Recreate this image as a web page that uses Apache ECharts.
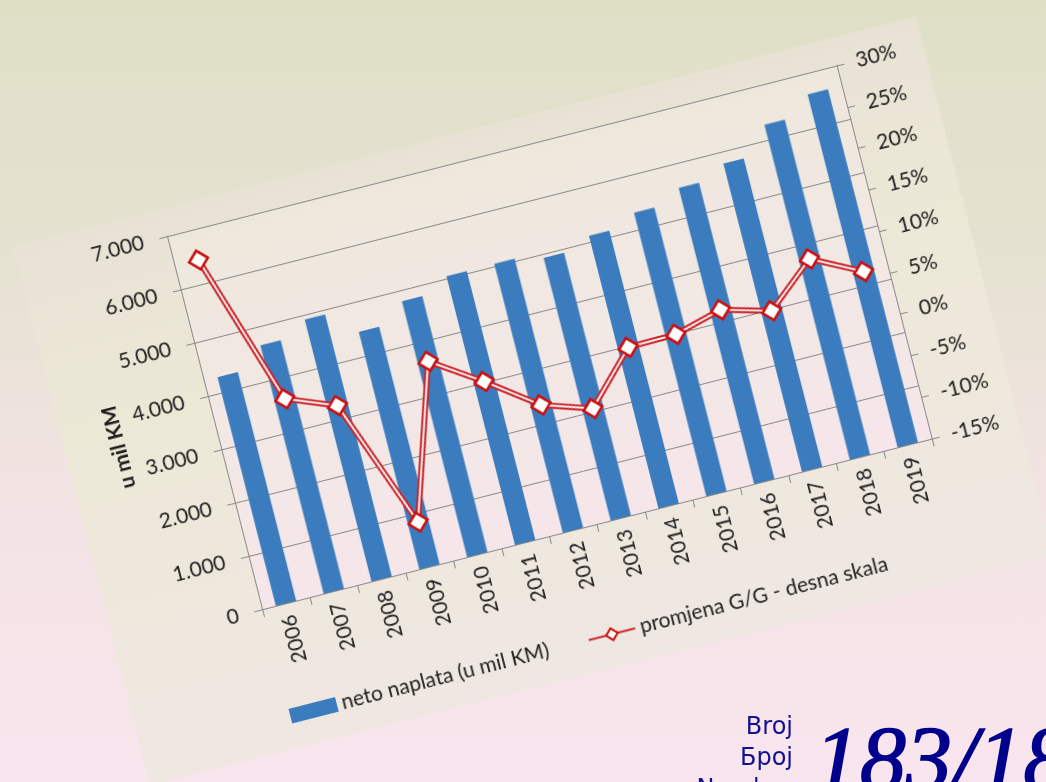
<!DOCTYPE html>
<html>
<head>
<meta charset="utf-8">
<script src="https://cdn.jsdelivr.net/npm/echarts@6.0.0/dist/echarts.min.js"></script>
<style>
  html, body {
    margin: 0;
    padding: 0;
    width: 1046px;
    height: 782px;
    overflow: hidden;
  }
  body {
    position: relative;
    background: linear-gradient(180deg, #dfdfc6 0%, #e6e2d2 35%, #f3e3e4 65%, #f9e5ee 100%);
  }
  #card {
    position: absolute;
    left: 67px;
    top: 123px;
    width: 932px;
    height: 556px;
    transform: rotate(-14.3deg);
    background: linear-gradient(180deg, #e8e2d5 0%, #ece8d6 35%, #eee8dc 65%, #efe7e2 100%);
  }
  .broj {
    position: absolute;
    right: 253px;
    top: 711px;
    font-family: "DejaVu Sans", sans-serif;
    font-size: 24px;
    line-height: 31px;
    color: #12128f;
    text-align: right;
  }
  .nr {
    position: absolute;
    left: 814px;
    top: 712px;
    font-family: "Liberation Serif", serif;
    font-style: italic;
    font-size: 92px;
    line-height: 1;
    color: #00008c;
    -webkit-text-stroke: 1.6px #00008c;
    white-space: nowrap;
  }
</style>
</head>
<body>
<div id="card"></div>
<div class="broj">Broj<br>Броj<br>Number</div>
<div class="nr">183/18</div>

<script>
const years = ['2006', '2007', '2008', '2009', '2010', '2011', '2012',
  '2013', '2014', '2015', '2016', '2017', '2018', '2019']
// neto naplata, u mil KM (lijeva skala)
const netoNaplata = [4290, 4660, 4915, 4453, 4802, 5040, 5044,
  4929, 5115, 5318, 5556, 5782, 6280, 6625]
// promjena G/G u % (desna skala)
const promjenaGG = [26.4, 8.2, 5.9, -9.6, 8.3, 4.4, 0.1,
  -1.8, 4.1, 4.2, 5.7, 4.1, 8.9, 5.9]
const leftScale = { min: 0, max: 7000, step: 1000 }
const rightScale = { min: -15, max: 30, step: 5 }

const barName = 'neto naplata (u mil KM)'
const lineName = 'promjena G/G - desna skala'
const font = 'Lato'
const gray = '#8a8a8a'

const chart = echarts.init(document.getElementById('card'))

const option = {
  animation: false,
  backgroundColor: 'transparent',
  textStyle: { fontFamily: font },
  grid: {
    left: 152, top: 28, width: 691, height: 385,
    show: true,
    borderWidth: 0,
    backgroundColor: new echarts.graphic.LinearGradient(0, 0, 0, 1, [
      { offset: 0, color: '#eee8dc' },
      { offset: 0.5, color: '#f2e8e4' },
      { offset: 1, color: '#f6e6ea' }
    ])
  },
  legend: {
    left: 148,
    top: 508,
    itemWidth: 48,
    itemHeight: 15,
    itemGap: 40,
    textStyle: { fontFamily: font, fontSize: 21, color: '#222' },
    data: [{ name: barName, icon: 'rect' }, { name: lineName }]
  },
  xAxis: {
    type: 'category',
    data: years,
    axisLine: { lineStyle: { color: gray } },
    axisTick: { show: true, length: 8, interval: 0, lineStyle: { color: gray } },
    axisLabel: { interval: 0, rotate: 90, margin: 12, fontSize: 21, color: '#1e1e1e', fontFamily: font }
  },
  yAxis: [
    {
      type: 'value',
      min: leftScale.min,
      max: leftScale.max,
      interval: leftScale.step,
      name: 'u mil KM',
      nameLocation: 'middle',
      nameRotate: 90,
      nameGap: 84,
      nameTextStyle: { fontFamily: font, fontSize: 21, fontWeight: 'bold', color: '#1e1e1e' },
      axisLine: { show: true, lineStyle: { color: gray } },
      axisTick: { show: true, length: 8, lineStyle: { color: gray } },
      axisLabel: {
        margin: 24, fontSize: 21, color: '#1e1e1e', fontFamily: font,
        formatter: v => String(v).replace(/\B(?=(\d{3})+(?!\d))/g, '.')
      },
      splitLine: { lineStyle: { color: gray, width: 1 } }
    },
    {
      type: 'value',
      position: 'right',
      min: rightScale.min,
      max: rightScale.max,
      interval: rightScale.step,
      axisLine: { show: true, lineStyle: { color: gray } },
      axisTick: { show: true, length: 8, lineStyle: { color: gray } },
      axisLabel: { margin: 20, fontSize: 21, color: '#1e1e1e', fontFamily: font, formatter: '{value}%' },
      splitLine: { show: false }
    }
  ],
  series: [
    {
      name: barName,
      type: 'bar',
      data: netoNaplata,
      barWidth: 21,
      itemStyle: { color: '#3b7cbf' }
    },
    {
      name: lineName,
      type: 'line',
      yAxisIndex: 1,
      data: promjenaGG,
      z: 3,
      lineStyle: { color: '#c9252b', width: 6 },
      symbol: 'diamond',
      symbolSize: 19,
      itemStyle: { color: '#ffffff', borderColor: '#cc1010', borderWidth: 2.5 }
    },
    {
      name: 'inner',
      type: 'line',
      yAxisIndex: 1,
      data: promjenaGG,
      z: 4,
      silent: true,
      symbol: 'none',
      lineStyle: { color: '#fbf0f0', width: 2 }
    },
    {
      name: 'markers',
      type: 'line',
      yAxisIndex: 1,
      data: promjenaGG,
      z: 5,
      silent: true,
      lineStyle: { width: 0, opacity: 0 },
      symbol: 'diamond',
      symbolSize: 19,
      itemStyle: { color: '#ffffff', borderColor: '#cc1010', borderWidth: 2.5 }
    }
  ]
}

chart.setOption(option)
window.addEventListener('resize', () => chart.resize())
</script>
</body>
</html>
